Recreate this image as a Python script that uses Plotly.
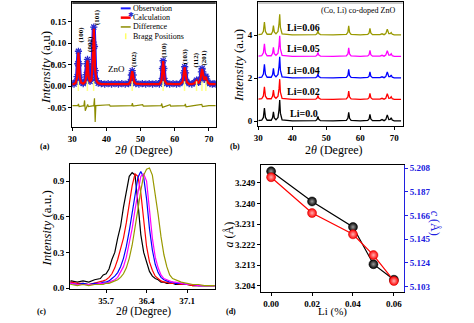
import plotly.graph_objects as go

W, H = 474, 323
def PX(x): return x / W
def PY(y): return 1 - y / H

# ---------------- Panel (a) data ----------------
x_a = [30.0, 30.5, 31.0, 31.4, 31.6, 31.8, 32.0, 32.2, 32.6, 33.2, 33.8, 34.1, 34.3, 34.45, 34.6, 34.8,
       35.2, 35.6, 35.9, 36.1, 36.3, 36.5, 36.7, 37.1, 37.6, 38.5, 39.5, 40.5, 41.5, 42.5, 43.5, 44.5,
       45.5, 46.5, 47.0, 47.3, 47.55, 47.8, 48.1, 48.6, 49.5, 50.5, 51.5, 52.5, 53.5, 54.5, 55.5, 56.1,
       56.4, 56.6, 56.8, 57.1, 57.6, 58.5, 59.5, 60.5, 61.5, 62.3, 62.65, 62.9, 63.15, 63.5, 64.2, 65.0,
       65.8, 66.2, 66.4, 66.6, 67.0, 67.5, 67.8, 68.0, 68.2, 68.6, 68.9, 69.1, 69.3, 69.7, 70.3, 71.0,
       71.5, 72.0]
calc_a = [0.005, 0.005, 0.008, 0.02, 0.05, 0.078, 0.05, 0.02, 0.008, 0.006, 0.01, 0.025, 0.05, 0.06, 0.045, 0.02,
          0.01, 0.015, 0.045, 0.1, 0.133, 0.09, 0.035, 0.012, 0.007, 0.005, 0.005, 0.005, 0.005, 0.005, 0.005, 0.005,
          0.005, 0.005, 0.01, 0.025, 0.035, 0.025, 0.01, 0.006, 0.005, 0.005, 0.005, 0.005, 0.005, 0.005, 0.005, 0.012,
          0.04, 0.058, 0.04, 0.012, 0.006, 0.005, 0.005, 0.005, 0.005, 0.01, 0.03, 0.044, 0.03, 0.01, 0.005, 0.005,
          0.007, 0.01, 0.013, 0.01, 0.008, 0.015, 0.032, 0.04, 0.032, 0.015, 0.018, 0.022, 0.016, 0.008, 0.005, 0.005,
          0.005, 0.005]
obs_a = [0.006, 0.005, 0.009, 0.022, 0.052, 0.081, 0.052, 0.021, 0.009, 0.006, 0.011, 0.027, 0.052, 0.062, 0.046, 0.021,
         0.011, 0.016, 0.047, 0.102, 0.137, 0.092, 0.036, 0.013, 0.007, 0.006, 0.005, 0.006, 0.005, 0.006, 0.005, 0.006,
         0.005, 0.006, 0.011, 0.026, 0.036, 0.026, 0.011, 0.006, 0.005, 0.006, 0.005, 0.006, 0.005, 0.006, 0.005, 0.013,
         0.041, 0.059, 0.041, 0.013, 0.006, 0.005, 0.006, 0.005, 0.006, 0.011, 0.031, 0.045, 0.031, 0.011, 0.006, 0.005,
         0.008, 0.011, 0.014, 0.011, 0.009, 0.016, 0.033, 0.041, 0.033, 0.016, 0.019, 0.023, 0.017, 0.009, 0.006, 0.005,
         0.006, 0.005]
x_diff = [30, 31.0, 31.6, 31.8, 32.0, 33.4, 33.6, 33.8, 34.3, 34.5, 34.7, 36.3, 36.5, 36.7, 36.9, 40.9, 41.1,
          45, 47.4, 47.6, 47.8, 50.6, 50.8, 56.0, 56.2, 56.4, 58.6, 58.8, 62.9, 63.1, 63.3, 65.5, 67.9, 68.1, 70, 72]
diff_a = [-0.045, -0.045, -0.045, -0.041, -0.047, -0.045, -0.033, -0.057, -0.045, -0.042, -0.047, -0.045, -0.028,
          -0.083, -0.045, -0.043, -0.046, -0.045, -0.045, -0.039, -0.046, -0.043, -0.046, -0.045, -0.04, -0.049,
          -0.043, -0.046, -0.045, -0.041, -0.048, -0.045, -0.042, -0.047, -0.045, -0.045]
bragg_pos = [31.77, 34.42, 36.25, 47.54, 56.6, 62.86, 66.38, 67.96, 69.1]
bragg_y = [0.0] * len(bragg_pos)
hkl_labels = ["(100)", "(002)", "(101)", "(102)", "(110)", "(103)", "(112)", "(201)"]
hkl_x = [32.6, 35.2, 37.2, 48.1, 57.0, 63.1, 66.3, 68.5]
hkl_y = [0.12, 0.098, 0.16, 0.063, 0.083, 0.07, 0.06, 0.066]

# ---------------- Panel (b) data ----------------
x_b = [30, 31.0, 31.5, 31.8, 32.1, 32.6, 33.8, 34.2, 34.45, 34.7, 35.2, 35.8, 36.1, 36.3, 36.5, 37.0, 40, 44,
       46.9, 47.3, 47.55, 47.8, 48.3, 52, 55.9, 56.35, 56.6, 56.85, 57.3, 60, 62.2, 62.6, 62.85, 63.1, 63.6,
       65.8, 66.4, 67.0, 67.5, 67.95, 68.4, 68.8, 69.1, 69.4, 70, 72]
li_names = ["Li=0.0", "Li=0.02", "Li=0.04", "Li=0.05", "Li=0.06"]
li_offsets = [0, 1, 2, 3, 4]
int_li00 = [0.03, 0.05, 0.18, 0.62, 0.18, 0.05, 0.05, 0.17, 0.44, 0.16, 0.07, 0.18, 0.55, 0.99, 0.38, 0.07, 0.02, 0.02,
            0.03, 0.09, 0.23, 0.09, 0.03, 0.02, 0.04, 0.14, 0.42, 0.14, 0.04, 0.02, 0.04, 0.11, 0.32, 0.11, 0.03,
            0.03, 0.08, 0.03, 0.08, 0.3, 0.08, 0.09, 0.16, 0.06, 0.02, 0.02]
int_li02 = [0.03, 0.05, 0.18, 0.6, 0.17, 0.05, 0.05, 0.17, 0.45, 0.15, 0.07, 0.17, 0.52, 0.96, 0.36, 0.07, 0.02, 0.02,
            0.03, 0.08, 0.2, 0.08, 0.03, 0.02, 0.04, 0.13, 0.4, 0.13, 0.04, 0.02, 0.04, 0.1, 0.3, 0.1, 0.03,
            0.03, 0.07, 0.03, 0.07, 0.28, 0.07, 0.08, 0.14, 0.05, 0.02, 0.02]
int_li04 = [0.03, 0.05, 0.2, 0.65, 0.19, 0.05, 0.05, 0.17, 0.46, 0.16, 0.07, 0.18, 0.56, 1.0, 0.38, 0.07, 0.02, 0.02,
            0.03, 0.08, 0.2, 0.08, 0.03, 0.02, 0.04, 0.13, 0.42, 0.13, 0.04, 0.02, 0.04, 0.1, 0.3, 0.1, 0.03,
            0.03, 0.07, 0.03, 0.08, 0.29, 0.08, 0.08, 0.15, 0.05, 0.02, 0.02]
int_li05 = [0.03, 0.05, 0.19, 0.6, 0.18, 0.05, 0.05, 0.16, 0.44, 0.15, 0.07, 0.17, 0.54, 0.98, 0.37, 0.07, 0.02, 0.02,
            0.03, 0.08, 0.2, 0.08, 0.03, 0.02, 0.04, 0.13, 0.42, 0.13, 0.04, 0.02, 0.04, 0.1, 0.3, 0.1, 0.03,
            0.03, 0.07, 0.03, 0.08, 0.28, 0.08, 0.08, 0.14, 0.05, 0.02, 0.02]
int_li06 = [0.03, 0.05, 0.19, 0.62, 0.18, 0.05, 0.05, 0.17, 0.45, 0.16, 0.07, 0.18, 0.55, 0.98, 0.37, 0.07, 0.02, 0.02,
            0.03, 0.08, 0.22, 0.08, 0.03, 0.02, 0.04, 0.14, 0.44, 0.14, 0.04, 0.02, 0.04, 0.11, 0.32, 0.11, 0.03,
            0.03, 0.07, 0.03, 0.08, 0.28, 0.08, 0.08, 0.13, 0.05, 0.02, 0.02]
li_colors = ["#000000", "#ff0000", "#0000ff", "#ff00ff", "#999900"]

# ---------------- Panel (c) data ----------------
x_c = [35.0, 35.1, 35.2, 35.3, 35.4, 35.5, 35.6, 35.65, 35.7, 35.75, 35.8, 35.85, 35.9, 35.95, 36.0, 36.05,
       36.1, 36.15, 36.2, 36.25, 36.3, 36.35, 36.4, 36.45, 36.5, 36.55, 36.6, 36.65, 36.7, 36.75, 36.8, 36.85,
       36.9, 37.0, 37.1, 37.2, 37.3, 37.4, 37.5, 37.6, 37.7]
norm_li00 = [0.05, 0.06, 0.05, 0.06, 0.05, 0.07, 0.08, 0.11, 0.12, 0.16, 0.24, 0.3, 0.42, 0.52, 0.68, 0.82,
             0.94, 0.97, 0.95, 0.72, 0.45, 0.3, 0.22, 0.14, 0.1, 0.08, 0.07, 0.05, 0.05, 0.04, 0.04, 0.04,
             0.03, 0.03, 0.03, 0.02, 0.02, 0.02, 0.02, 0.02, 0.02]
norm_li02 = [0.04, 0.05, 0.04, 0.04, 0.03, 0.04, 0.05, 0.06, 0.07, 0.09, 0.12, 0.17, 0.24, 0.32, 0.42, 0.55,
             0.7, 0.86, 0.96, 0.94, 0.8, 0.55, 0.35, 0.22, 0.15, 0.1, 0.08, 0.06, 0.05, 0.05, 0.04, 0.04,
             0.04, 0.03, 0.03, 0.02, 0.02, 0.02, 0.02, 0.02, 0.02]
norm_li04 = [0.04, 0.04, 0.03, 0.04, 0.03, 0.04, 0.04, 0.05, 0.05, 0.06, 0.08, 0.1, 0.13, 0.18, 0.25, 0.35,
             0.48, 0.62, 0.78, 0.93, 0.98, 0.93, 0.75, 0.5, 0.32, 0.2, 0.13, 0.09, 0.07, 0.06, 0.05, 0.05,
             0.04, 0.04, 0.03, 0.03, 0.02, 0.02, 0.02, 0.02, 0.02]
norm_li05 = [0.03, 0.04, 0.03, 0.03, 0.03, 0.03, 0.04, 0.04, 0.04, 0.05, 0.06, 0.07, 0.09, 0.13, 0.18, 0.26,
             0.37, 0.5, 0.66, 0.82, 0.94, 0.96, 0.9, 0.66, 0.42, 0.26, 0.17, 0.11, 0.08, 0.07, 0.06, 0.05,
             0.05, 0.04, 0.03, 0.03, 0.02, 0.02, 0.02, 0.02, 0.02]
norm_li06 = [0.03, 0.03, 0.02, 0.03, 0.02, 0.03, 0.03, 0.03, 0.04, 0.04, 0.05, 0.06, 0.07, 0.09, 0.12, 0.17,
             0.25, 0.36, 0.5, 0.66, 0.82, 0.95, 1.0, 1.01, 0.95, 0.8, 0.62, 0.43, 0.28, 0.18, 0.11, 0.08,
             0.07, 0.05, 0.04, 0.03, 0.03, 0.02, 0.02, 0.02, 0.02]

# ---------------- Panel (d) data ----------------
li_pct = [0.00, 0.02, 0.04, 0.05, 0.06]
a_lat = [3.2541, 3.2409, 3.2297, 3.2134, 3.2066]
c_lat = [5.2001, 5.1683, 5.1494, 5.1310, 5.1080]

SERIF = "Liberation Serif"
BLUE_AX = "#2020e0"
fig = go.Figure()

# (a)
fig.add_trace(go.Scatter(x=x_a, y=obs_a, mode="lines+markers", xaxis="x", yaxis="y",
                         line=dict(color="#1a1aff", width=4),
                         marker=dict(symbol="asterisk-open", size=6, color="#2a2acc", line=dict(width=1.3, color="#3333bb"))))
fig.add_trace(go.Scatter(x=x_a, y=calc_a, mode="lines", xaxis="x", yaxis="y",
                         line=dict(color="#ff0000", width=2.2)))
fig.add_trace(go.Scatter(x=x_diff, y=diff_a, mode="lines", xaxis="x", yaxis="y",
                         line=dict(color="#8c8c00", width=1.2)))
fig.add_trace(go.Scatter(x=bragg_pos, y=bragg_y, mode="markers", xaxis="x", yaxis="y",
                         marker=dict(symbol="line-ns", size=7, line=dict(width=1.5, color="#ffff88"))))

# (b)
for nm, off, ys, col in zip(li_names, li_offsets, [int_li00, int_li02, int_li04, int_li05, int_li06], li_colors):
    fig.add_trace(go.Scatter(x=x_b, y=[v + off for v in ys], mode="lines", xaxis="x2", yaxis="y2",
                             line=dict(color=col, width=1.3), name=nm))

# (c)
for ys, col in zip([norm_li00, norm_li02, norm_li04, norm_li05, norm_li06], li_colors):
    fig.add_trace(go.Scatter(x=x_c, y=ys, mode="lines", xaxis="x3", yaxis="y3",
                             line=dict(color=col, width=1.2)))

# (d)
fig.add_trace(go.Scatter(x=li_pct, y=a_lat, mode="lines+markers", xaxis="x4", yaxis="y4",
                         line=dict(color="black", width=1.2),
                         marker=dict(size=9, color="black", gradient=dict(type="radial", color="#9a9a9a"),
                                     line=dict(width=0.5, color="black"))))
fig.add_trace(go.Scatter(x=li_pct, y=c_lat, mode="lines+markers", xaxis="x4", yaxis="y5",
                         line=dict(color="#ff0000", width=1.2),
                         marker=dict(size=9, color="#ff0000", gradient=dict(type="radial", color="#ffb0b0"),
                                     line=dict(width=0.5, color="#cc0000"))))

tickfont = dict(family=SERIF, size=9, color="black", weight="bold")
def ax(domain, rng, **kw):
    d = dict(domain=domain, range=rng, showline=True, linecolor="black", linewidth=1.3, mirror=True,
             ticks="outside", ticklen=3, tickwidth=1, tickcolor="black", tickfont=tickfont,
             showgrid=False, zeroline=False)
    d.update(kw)
    return d

layout = dict(
    width=W, height=H, margin=dict(l=0, r=0, t=0, b=0), showlegend=False,
    plot_bgcolor="white", paper_bgcolor="white",
    xaxis=ax([PX(68), PX(213)], [30, 72], anchor="y", tickvals=[30, 40, 50, 60, 70]),
    yaxis=ax([PY(128), PY(0)], [-0.095, 0.195], anchor="x", tickvals=[-0.05, 0, 0.05, 0.1, 0.15],
             ticktext=["-0.05", "0.00", "0.05", "0.10", "0.15"]),
    xaxis2=ax([PX(256), PX(402)], [30, 72.5], anchor="y2", tickvals=[30, 40, 50, 60, 70]),
    yaxis2=ax([PY(127), PY(0)], [-0.23, 5.55], anchor="x2", tickvals=[0, 2, 4]),
    xaxis3=ax([PX(66), PX(212)], [35.08, 37.58], anchor="y3", tickvals=[35.7, 36.4, 37.1],
              ticktext=["35.7", "36.4", "37.1"]),
    yaxis3=ax([PY(293), PY(166)], [-0.005, 1.04], anchor="x3", tickvals=[0, 0.3, 0.6, 0.9],
              ticktext=["0.0", "0.3", "0.6", "0.9"]),
    xaxis4=ax([PX(259), PX(403)], [-0.0048, 0.0648], anchor="y4", tickvals=[0, 0.02, 0.04, 0.06],
              ticktext=["0.00", "0.02", "0.04", "0.06"]),
    yaxis4=ax([PY(296), PY(167)], [3.2014, 3.2567], anchor="x4", mirror=False,
              tickvals=[3.204, 3.213, 3.222, 3.231, 3.240, 3.249],
              ticktext=["3.204", "3.213", "3.222", "3.231", "3.240", "3.249"]),
    yaxis5=ax([PY(296), PY(167)], [5.0986, 5.2106], anchor="x4", overlaying="y4", side="right", mirror=False,
              linecolor=BLUE_AX, tickcolor=BLUE_AX,
              tickfont=dict(family=SERIF, size=9, color=BLUE_AX, weight="bold"),
              tickvals=[5.103, 5.124, 5.145, 5.166, 5.187, 5.208],
              ticktext=["5.103", "5.124", "5.145", "5.166", "5.187", "5.208"]),
)
fig.update_layout(**layout)

ann = []
def pa(x, y, text, size=12, angle=0, color="black", weight="normal", xanchor="center"):
    ann.append(dict(x=PX(x), y=PY(y), xref="paper", yref="paper", text=text, showarrow=False,
                    textangle=angle, xanchor=xanchor, yanchor="middle",
                    font=dict(family=SERIF, size=size, color=color, weight=weight)))

# axis titles
pa(41, 67, "<i>Intensity</i> (a.u)", 13, -90)
pa(140, 151, "2<i>θ</i> (Degree)", 12)
pa(236, 65, "<i>Intensity</i> (a.u)", 13, -90)
pa(333, 151, "2<i>θ</i> (Degree)", 12)
pa(42, 232, "<i>Intensity</i> (a.u.)", 13, -90)
pa(140, 316.5, "2<i>θ</i> (Degree)", 11.5)
pa(226, 238, "<i>a</i> (Å)", 12, -90)
pa(434, 226, "<i>c</i> (Å)", 12, 90, color=BLUE_AX)
pa(331, 316.5, "Li (%)", 11)
# panel letters
pa(40, 148, "(a)", 8, weight="bold")
pa(232, 148, "(b)", 8, weight="bold")
pa(37, 316, "(c)", 8, weight="bold")
pa(228, 316, "(d)", 8, weight="bold")

# legend of (a) drawn manually
leg_rows = [("Observation", 6.5), ("Calculation", 16), ("Difference", 25.5), ("Bragg Positions", 35)]
for txt, yy in leg_rows:
    pa(127, yy, txt, 8, xanchor="left")
shapes = [
    dict(type="line", xref="paper", yref="paper", x0=PX(117), x1=PX(127), y0=PY(6.5), y1=PY(6.5),
         line=dict(color="#1a1aff", width=2)),
    dict(type="line", xref="paper", yref="paper", x0=PX(117), x1=PX(127), y0=PY(16), y1=PY(16),
         line=dict(color="#ff0000", width=2.5)),
    dict(type="line", xref="paper", yref="paper", x0=PX(117), x1=PX(127), y0=PY(25.5), y1=PY(25.5),
         line=dict(color="#8c8c00", width=1.5)),
    dict(type="line", xref="paper", yref="paper", x0=PX(122), x1=PX(122), y0=PY(32), y1=PY(38),
         line=dict(color="#ffff66", width=1.5)),
    dict(type="rect", xref="paper", yref="paper", x0=PX(68), x1=PX(213), y0=PY(2), y1=PY(0),
         line=dict(width=0), fillcolor="#444444"),
    dict(type="rect", xref="paper", yref="paper", x0=PX(256), x1=PX(402), y0=PY(2), y1=PY(0),
         line=dict(width=0), fillcolor="#c8c8c8"),
]
ann.append(dict(x=PX(122), y=PY(6.5), xref="paper", yref="paper", text="✱", showarrow=False,
                font=dict(size=7, color="#2a2acc")))

# hkl labels in (a)
for t, hx, hy in zip(hkl_labels, hkl_x, hkl_y):
    ann.append(dict(x=hx, y=hy, xref="x", yref="y", text=t, showarrow=False, textangle=-90,
                    font=dict(family=SERIF, size=7, color="black", weight="bold")))
ann.append(dict(x=42.8, y=0.04, xref="x", yref="y", text="ZnO", showarrow=False,
                font=dict(family=SERIF, size=9, color="black")))

# labels in (b)
li_label_y = [0.36, 1.38, 2.36, 3.38, 4.36]
for nm, ly in zip(li_names, li_label_y):
    ann.append(dict(x=43.4, y=ly, xref="x2", yref="y2", text=nm, showarrow=False,
                    font=dict(family=SERIF, size=10, color="black", weight="bold")))
ann.append(dict(x=59.4, y=5.14, xref="x2", yref="y2", text="(Co, Li) co-doped ZnO", showarrow=False,
                font=dict(family=SERIF, size=8, color="black")))

fig.update_layout(annotations=ann, shapes=shapes)
fig.write_html("out.html")
